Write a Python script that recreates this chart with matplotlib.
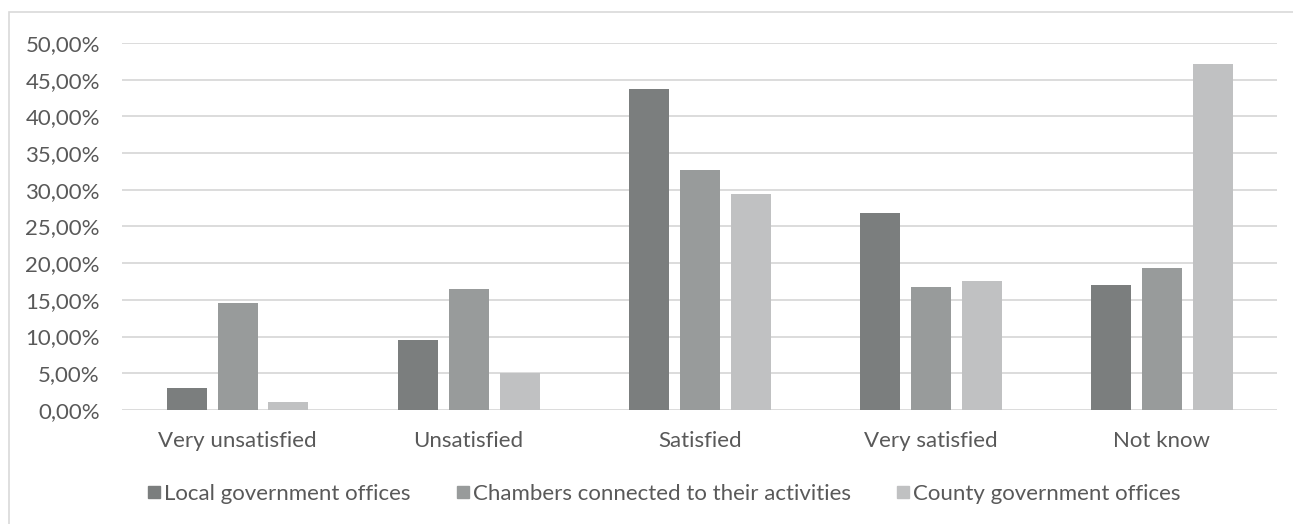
import numpy as np
import matplotlib.pyplot as plt
from matplotlib.lines import Line2D
from matplotlib.patches import Rectangle
from matplotlib.ticker import FuncFormatter

categories = ['Very unsatisfied', 'Unsatisfied', 'Satisfied', 'Very satisfied', 'Not know']
series_names = ['Local government offices', 'Chambers connected to their activities',
                'County government offices']
local_vals = [3.0, 9.5, 43.7, 26.8, 17.0]
chambers_vals = [14.6, 16.5, 32.7, 16.8, 19.3]
county_vals = [1.1, 5.0, 29.4, 17.6, 47.2]

colors = ['#7b7e7e', '#989b9b', '#c0c1c2']
text_color = '#595959'

plt.rcParams['font.family'] = ['Lato', 'DejaVu Sans']

fig = plt.figure(figsize=(12.93, 5.24), dpi=100)
ax = fig.add_axes([0.0944, 0.2176, 0.8936, 0.7004])

x = np.arange(len(categories))
width = 0.173
offset = 0.22
for i, vals in enumerate([local_vals, chambers_vals, county_vals]):
    ax.bar(x + (i - 1) * offset, np.array(vals) / 100, width, color=colors[i],
           label=series_names[i], zorder=3)

ax.set_xlim(-0.5, len(categories) - 0.5)
ax.set_ylim(0, 0.5)
ax.set_yticks(np.arange(0, 0.501, 0.05))
ax.yaxis.set_major_formatter(FuncFormatter(lambda v, p: f'{v * 100:.2f}%'.replace('.', ',')))
ax.set_xticks(x)
ax.set_xticklabels(categories)
ax.grid(axis='y', color='#d9d9d9', linewidth=1.3, zorder=0)
for s in ax.spines.values():
    s.set_visible(False)
ax.tick_params(axis='both', length=0, labelsize=16, colors=text_color)
ax.tick_params(axis='x', pad=15)
ax.tick_params(axis='y', pad=16)

handles = [Line2D([], [], marker='s', linestyle='none', markersize=9,
                  markerfacecolor=c, markeredgecolor=c) for c in colors]
leg = fig.legend(handles, series_names, loc='center', bbox_to_anchor=(0.513, 0.057), ncol=3,
                 frameon=False, fontsize=16, handletextpad=0.1, columnspacing=2.0,
                 handlelength=0.7)
for t in leg.get_texts():
    t.set_color(text_color)

fig.patches.append(Rectangle((9 / 1293, -0.01), 1.1, 1 - 12 / 524 + 0.01, transform=fig.transFigure,
                             fill=False, edgecolor='#d9d9d9', linewidth=1.2))

fig.savefig('out.png', dpi=100)
